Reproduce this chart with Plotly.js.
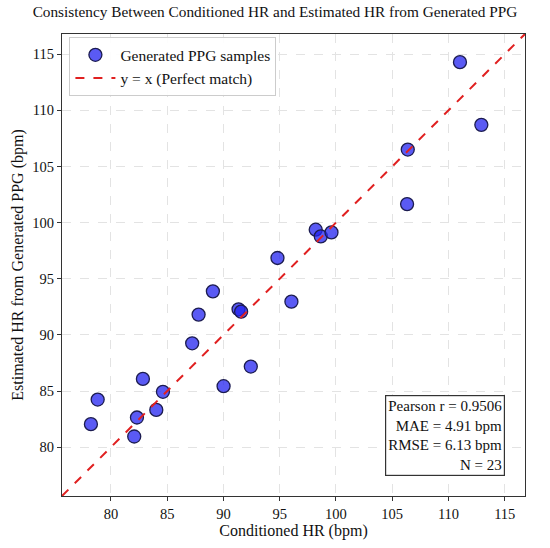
<!DOCTYPE html>
<html>
<head>
<meta charset="utf-8">
<script src="https://cdn.plot.ly/plotly-3.0.1.min.js"></script>
<style>html,body{margin:0;padding:0;background:#fff;}#chart{width:550px;height:548px;}</style>
</head>
<body>
<div id="chart"></div>
<script>
const conditionedHR = [78.22, 78.82, 82.07, 82.31, 82.84, 84.03, 84.62, 87.22, 87.79, 89.06, 90.01, 91.34, 91.57, 92.43, 96.04, 94.80, 98.20, 98.65, 99.60, 106.32, 106.38, 111.02, 112.92];
const estimatedHR   = [82.05, 84.24, 80.95, 82.64, 86.08, 83.32, 84.93, 89.25, 91.81, 93.88, 85.43, 92.28, 92.07, 87.18, 92.96, 96.85, 99.37, 98.77, 99.13, 101.65, 106.51, 114.29, 108.71];
const axisRange = [75.65, 116.8];
const tickVals = [80, 85, 90, 95, 100, 105, 110, 115];
const statsLines = ["Pearson r = 0.9506", "MAE = 4.91 bpm", "RMSE = 6.13 bpm", "N = 23"];

const serif = "'Liberation Serif', 'Times New Roman', serif";

const traces = [
  {
    x: conditionedHR, y: estimatedHR, mode: 'markers', type: 'scatter',
    name: 'Generated PPG samples',
    marker: {size: 13, color: 'rgba(35,35,240,0.75)', line: {color: '#1c1c50', width: 1.3}}
  },
  {
    x: axisRange, y: axisRange, mode: 'lines', type: 'scatter',
    name: 'y = x (Perfect match)',
    line: {color: '#e02020', width: 2, dash: 'dash'}
  }
];

const axisCommon = {
  range: axisRange, tickvals: tickVals, ticks: 'outside', ticklen: 4, tickcolor: '#333',
  showline: true, linecolor: '#333', linewidth: 1.2, mirror: true,
  showgrid: true, gridcolor: '#e3e3e3', griddash: 'dash', gridwidth: 1,
  zeroline: false, tickfont: {family: serif, size: 14.5, color: '#111'}
};

const layout = {
  width: 550, height: 548,
  margin: {l: 62, r: 25, t: 34, b: 52},
  paper_bgcolor: '#fff', plot_bgcolor: '#fff',
  font: {family: serif, color: '#111'},
  title: {text: 'Consistency Between Conditioned HR and Estimated HR from Generated PPG',
          font: {family: serif, size: 15.3, color: '#111'}, x: 0.5, xanchor: 'center', y: 0.978, yanchor: 'middle'},
  xaxis: Object.assign({}, axisCommon, {title: {text: 'Conditioned HR (bpm)', font: {family: serif, size: 16}, standoff: 4}}),
  yaxis: Object.assign({}, axisCommon, {title: {text: 'Estimated HR from Generated PPG (bpm)', font: {family: serif, size: 16}, standoff: 4}}),
  showlegend: true,
  legend: {x: 0.016, y: 0.993, xanchor: 'left', yanchor: 'top', bgcolor: 'rgba(255,255,255,0.9)',
           bordercolor: '#cccccc', borderwidth: 1, font: {family: serif, size: 15.5, color: '#111'},
           itemwidth: 40, tracegroupgap: 0},
  annotations: [{
    xref: 'paper', yref: 'paper', x: 0.956, y: 0.044, xanchor: 'right', yanchor: 'bottom',
    text: statsLines.join('<br>'), align: 'right', showarrow: false,
    font: {family: serif, size: 15, color: '#111'},
    bgcolor: '#fff', bordercolor: '#333', borderwidth: 1.2, borderpad: 2
  }]
};

Plotly.newPlot('chart', traces, layout, {displayModeBar: false, staticPlot: true});
</script>
</body>
</html>
